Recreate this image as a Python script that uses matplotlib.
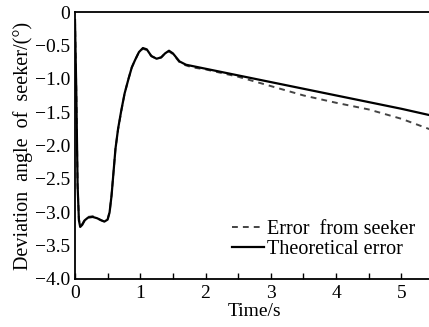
import matplotlib
matplotlib.use("Agg")
import matplotlib.pyplot as plt

t_theory = [0, 0.02, 0.04, 0.06, 0.08, 0.11, 0.15, 0.2, 0.27, 0.34, 0.4, 0.45,
            0.5, 0.53, 0.56, 0.59, 0.62, 0.66, 0.71, 0.76, 0.82, 0.87, 0.92,
            0.98, 1.04, 1.1, 1.17, 1.25, 1.32, 1.38, 1.44, 1.5, 1.6, 1.7, 1.8,
            2.0, 2.5, 3.0, 3.5, 4.0, 4.5, 5.0, 5.5]
y_theory = [-0.12, -1.2, -2.6, -3.12, -3.22, -3.19, -3.12, -3.08, -3.07, -3.09,
            -3.12, -3.14, -3.11, -3.0, -2.75, -2.4, -2.05, -1.75, -1.47, -1.22,
            -1.0, -0.83, -0.72, -0.6, -0.54, -0.56, -0.66, -0.7, -0.68, -0.62,
            -0.58, -0.62, -0.74, -0.79, -0.81, -0.85, -0.95, -1.05, -1.15,
            -1.25, -1.35, -1.45, -1.56]

t_seeker = [0, 0.02, 0.04, 0.06, 0.08, 0.11, 0.15, 0.2, 0.27, 0.34, 0.4, 0.45,
            0.5, 0.53, 0.56, 0.59, 0.62, 0.66, 0.71, 0.76, 0.82, 0.87, 0.92,
            0.98, 1.04, 1.1, 1.17, 1.25, 1.32, 1.38, 1.44, 1.5, 1.6, 1.7, 1.8,
            2.0, 2.5, 3.0, 3.5, 4.0, 4.5, 5.0, 5.5]
y_seeker = [-0.12, -1.2, -2.6, -3.1, -3.2, -3.18, -3.11, -3.07, -3.06, -3.09,
            -3.12, -3.14, -3.1, -3.0, -2.74, -2.4, -2.05, -1.76, -1.48, -1.22,
            -1.0, -0.83, -0.72, -0.6, -0.55, -0.57, -0.66, -0.7, -0.68, -0.62,
            -0.59, -0.63, -0.75, -0.8, -0.83, -0.86, -0.97, -1.11, -1.25,
            -1.36, -1.46, -1.6, -1.78]

x_ticks = [0, 1, 2, 3, 4, 5]
x_minor = [0.5, 1.5, 2.5, 3.5, 4.5, 5.5]
y_ticks = [0, -0.5, -1.0, -1.5, -2.0, -2.5, -3.0, -3.5, -4.0]
y_labels = ["0", "\u22120.5", "\u22121.0", "\u22121.5", "\u22122.0",
            "\u22122.5", "\u22123.0", "\u22123.5", "\u22124.0"]

plt.rcParams['font.family'] = ['Liberation Serif', 'DejaVu Serif']

fig = plt.figure(figsize=(4.29, 3.27), dpi=100)
ax = fig.add_axes([0.1748, 0.1468, 0.837, 0.8165])

ax.plot(t_seeker, y_seeker, color='#444444', lw=1.4, dashes=(3, 2.6),
        label='Error  from seeker')
ax.plot(t_theory, y_theory, color='black', lw=1.6, label='Theoretical error')

ax.set_xlim(0, 5.5)
ax.set_ylim(-4.0, 0)
ax.set_xticks(x_ticks)
ax.set_xticks(x_minor, minor=True)
ax.set_yticks(y_ticks)
ax.set_yticklabels(y_labels)

ax.tick_params(axis='x', which='both', direction='in', length=4, width=1,
               labelsize=14, pad=4)
ax.tick_params(axis='y', which='both', length=0, labelsize=14, pad=3.5)

for side in ['left', 'bottom', 'top']:
    ax.spines[side].set_linewidth(1.3)
ax.spines['right'].set_visible(False)

ax.set_xlabel('Time/s', fontsize=14, labelpad=1)
ax.set_ylabel('Deviation  angle  of  seeker/(\u00b0)', fontsize=14.5, labelpad=1)

ax.legend(loc='lower right', bbox_to_anchor=(0.947, 0.075), frameon=False,
          fontsize=14.5, handlelength=1.6, handletextpad=0.15, labelspacing=0.05,
          borderaxespad=0, borderpad=0)

fig.savefig('out.png', dpi=100)
